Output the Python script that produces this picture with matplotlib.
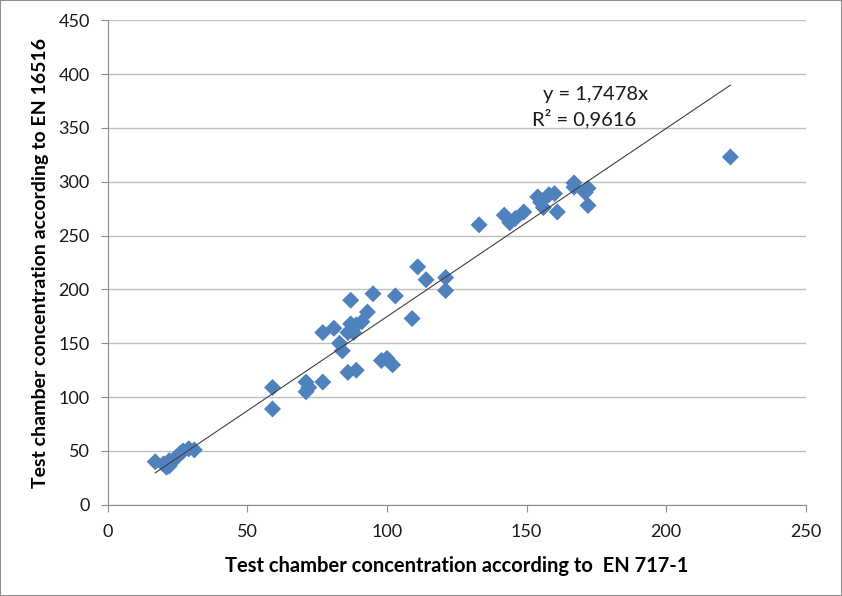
import matplotlib
matplotlib.use("Agg")
import matplotlib.pyplot as plt
import numpy as np

plt.rcParams["font.family"] = ["Lato", "DejaVu Sans"]

# EN 717-1 (x) vs EN 16516 (y)
x_en717 = [17, 20, 21, 22, 22, 23, 24, 25, 26, 27, 29, 31,
           59, 59, 71, 71, 72, 77,
           77, 81, 83, 84, 86, 86, 87, 87, 88, 89, 89, 91, 93, 95,
           98, 100, 102, 103, 109,
           111, 114, 121, 121,
           133, 142, 144, 146, 149, 154, 155, 156, 158, 160, 161,
           167, 167, 171, 172, 172, 223]
y_en16516 = [40, 38, 35, 41, 36, 40, 43, 45, 48, 50, 52, 51,
             109, 89, 114, 105, 109, 114,
             160, 164, 150, 143, 160, 123, 168, 190, 160, 125, 167, 170, 179, 196,
             134, 136, 130, 194, 173,
             221, 209, 211, 199,
             260, 269, 262, 266, 272, 286, 281, 276, 288, 289, 272,
             299, 295, 290, 294, 278, 323]
slope = 1.7478
r2 = 0.9616

x = np.array(x_en717, dtype=float)
y = np.array(y_en16516, dtype=float)

fig = plt.figure(figsize=(8.42, 5.96), dpi=100)
fig.patch.set_edgecolor("#8c8c8c")
fig.patch.set_linewidth(1.2)
ax = fig.add_axes([0.128, 0.153, 0.829, 0.813])

ax.scatter(x, y, marker="D", s=75, color="#4f81bd", edgecolors="none", zorder=3)
xl = np.array([x.min(), x.max()])
ax.plot(xl, slope * xl, color="#404040", lw=0.8, zorder=4)

ax.text(156, 381, "y = 1,7478x", fontsize=14.5, ha="left", va="center", color="#1a1a1a")
ax.text(152, 359, "R² = 0,9616", fontsize=14.5, ha="left", va="center", color="#1a1a1a")

ax.set_xlim(0, 250)
ax.set_ylim(0, 450)
ax.set_xticks(range(0, 251, 50))
ax.set_yticks(range(0, 451, 50))
ax.grid(axis="y", color="#bfbfbf", lw=1.0)
ax.set_axisbelow(True)
for s in ["top", "right"]:
    ax.spines[s].set_visible(False)
for s in ["left", "bottom"]:
    ax.spines[s].set_color("#8c8c8c")
ax.tick_params(axis="both", colors="#8c8c8c", labelcolor="#1a1a1a",
               labelsize=13, length=5, direction="out")
ax.tick_params(axis="x", pad=9)
ax.tick_params(axis="y", pad=8)

ax.set_xlabel("Test chamber concentration according to  EN 717-1",
              fontsize=14.5, fontweight="bold", labelpad=11)
ax.set_ylabel("Test chamber concentration according to EN 16516",
              fontsize=14, fontweight="bold", labelpad=7)

fig.savefig("out.png", dpi=100, edgecolor=fig.get_edgecolor())
